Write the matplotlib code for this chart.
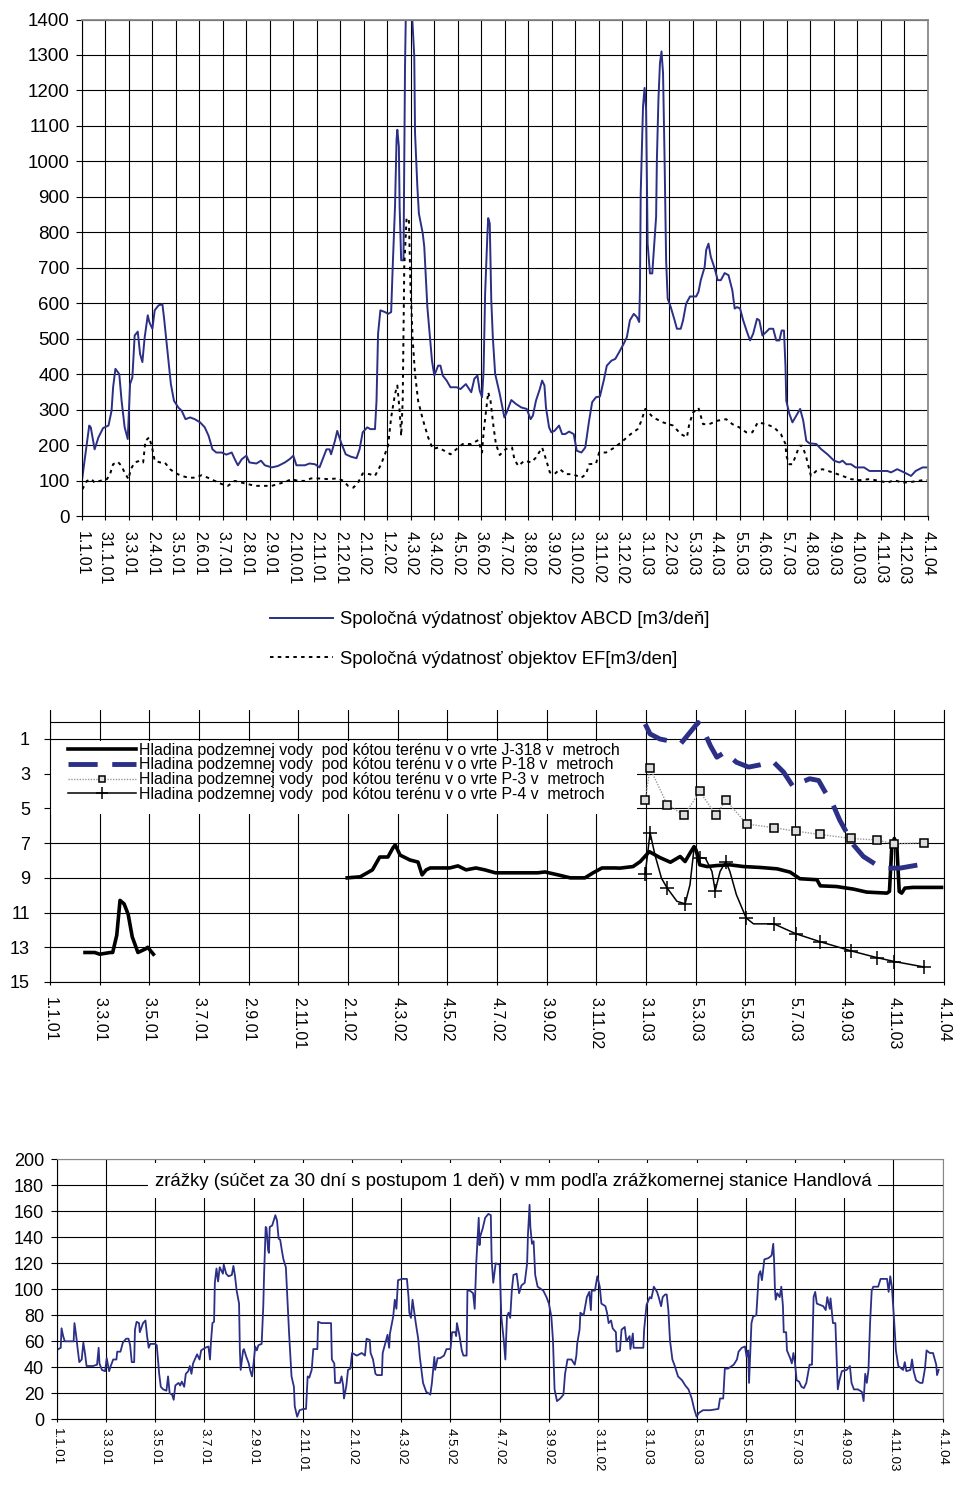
import numpy as np
import matplotlib
matplotlib.use('Agg')
import matplotlib.pyplot as plt
from matplotlib.patches import Rectangle

plt.rcParams['font.family'] = ['Liberation Sans', 'DejaVu Sans']

# tick labels (d.m.yy)
top_ticks = ['1.1.01', '31.1.01', '3.3.01', '2.4.01', '3.5.01', '2.6.01', '3.7.01', '2.8.01',
             '2.9.01', '2.10.01', '2.11.01', '2.12.01', '2.1.02', '1.2.02', '4.3.02', '3.4.02',
             '4.5.02', '3.6.02', '4.7.02', '3.8.02', '3.9.02', '3.10.02', '3.11.02', '3.12.02',
             '3.1.03', '2.2.03', '5.3.03', '4.4.03', '5.5.03', '4.6.03', '5.7.03', '4.8.03',
             '4.9.03', '4.10.03', '4.11.03', '4.12.03', '4.1.04']
mid_ticks = ['1.1.01', '3.3.01', '3.5.01', '3.7.01', '2.9.01', '2.11.01', '2.1.02', '4.3.02',
             '4.5.02', '4.7.02', '3.9.02', '3.11.02', '3.1.03', '5.3.03', '5.5.03', '5.7.03',
             '4.9.03', '4.11.03', '4.1.04']

# days counted from 1.1.2001
abcd_day = [0, 9, 11, 16, 21, 27, 34, 38, 40, 43, 48, 51, 55, 59, 62, 65, 68, 72, 75, 78, 81, 85, 87, 91,
            94, 99, 104, 106, 111, 115, 119, 125, 129, 134, 140, 146, 153, 159, 164, 169, 174, 181, 187,
            194, 198, 202, 207, 213, 217, 226, 232, 237, 246, 254, 263, 269, 274, 278, 289, 295, 302, 308,
            313, 317, 321, 323, 328, 331, 336, 342, 349, 356, 360, 364, 370, 374, 380, 382, 384, 387, 393,
            397, 401, 403, 406, 408, 409, 411, 412, 414, 417, 419, 421, 426, 428, 431, 432, 435, 437, 442,
            444, 448, 451, 454, 457, 462, 465, 468, 473, 478, 486, 491, 498, 505, 509, 513, 516, 519, 521,
            523, 526, 527, 529, 531, 533, 536, 542, 548, 551, 557, 563, 570, 577, 582, 585, 589, 594, 597,
            600, 602, 606, 609, 613, 619, 623, 627, 632, 638, 642, 648, 653, 658, 662, 667, 672, 677, 681,
            687, 692, 697, 703, 707, 711, 716, 720, 723, 724, 725, 728, 730, 732, 734, 737, 740, 743, 745,
            746, 748, 750, 752, 754, 756, 758, 760, 764, 769, 772, 777, 780, 784, 789, 797, 800, 803, 808,
            810, 813, 816, 821, 825, 829, 834, 839, 844, 847, 850, 854, 858, 863, 867, 871, 876, 879, 883,
            888, 892, 897, 901, 905, 908, 911, 913, 914, 918, 922, 927, 932, 936, 940, 944, 953, 959, 968,
            976, 983, 987, 992, 998, 1004, 1015, 1022, 1035, 1045, 1050, 1058, 1067, 1076, 1082, 1091, 1097]
abcd_val = [108, 255, 250, 188, 222, 248, 255, 297, 363, 415, 400, 325, 250, 217, 372, 391, 509, 520, 457,
            434, 504, 566, 547, 528, 580, 594, 597, 561, 457, 372, 325, 305, 297, 273, 278, 273, 264, 250,
            226, 188, 179, 179, 173, 179, 160, 143, 160, 170, 151, 148, 156, 143, 137, 141, 151, 160, 170,
            143, 143, 148, 146, 137, 165, 188, 188, 174, 212, 240, 207, 174, 167, 163, 188, 236, 250, 245,
            245, 325, 514, 580, 575, 570, 575, 702, 872, 1061, 1089, 1042, 872, 721, 721, 1268, 1550, 1550,
            1420, 1296, 1080, 929, 853, 797, 759, 589, 514, 438, 396, 424, 424, 396, 382, 363, 363, 358, 372,
            349, 387, 396, 353, 335, 410, 627, 797, 840, 825, 608, 504, 401, 344, 278, 292, 327, 316, 306,
            302, 273, 283, 325, 358, 382, 368, 306, 250, 236, 240, 255, 231, 231, 238, 231, 184, 179, 193,
            269, 321, 335, 337, 382, 424, 438, 443, 462, 486, 504, 552, 570, 561, 547, 636, 910, 1155, 1207,
            1145, 768, 684, 684, 778, 844, 1004, 1174, 1277, 1310, 1249, 1004, 721, 613, 589, 552, 528, 528,
            552, 599, 619, 619, 632, 665, 702, 750, 768, 731, 698, 665, 665, 685, 679, 636, 585, 589, 585,
            552, 519, 495, 514, 556, 552, 509, 519, 528, 528, 495, 495, 523, 523, 420, 325, 288, 264, 283,
            302, 269, 212, 205, 203, 189, 173, 156, 151, 156, 146, 146, 137, 137, 127, 127, 127, 123, 132,
            123, 113, 127, 137, 137]

ef_day = [0, 6, 12, 16, 23, 32, 36, 40, 46, 51, 55, 60, 63, 68, 75, 79, 82, 87, 91, 94, 101, 107, 114, 120,
          129, 138, 146, 155, 163, 172, 181, 189, 198, 207, 215, 224, 237, 246, 254, 263, 272, 280, 289,
          297, 306, 319, 332, 339, 345, 352, 358, 364, 373, 380, 388, 397, 401, 406, 409, 412, 414, 416,
          418, 421, 424, 426, 429, 432, 436, 442, 449, 455, 462, 470, 478, 486, 494, 505, 514, 519, 521,
          527, 530, 534, 537, 542, 550, 558, 561, 566, 574, 583, 589, 597, 602, 607, 613, 620, 628, 637,
          648, 654, 658, 667, 671, 680, 691, 702, 712, 721, 725, 731, 741, 754, 767, 777, 785, 788, 793,
          800, 806, 814, 825, 836, 844, 853, 862, 870, 877, 888, 898, 907, 913, 914, 918, 922, 927, 931,
          935, 940, 946, 953, 961, 974, 987, 998, 1009, 1022, 1035, 1045, 1054, 1065, 1076, 1091, 1097]
ef_val = [75, 99, 104, 94, 99, 104, 118, 146, 153, 141, 122, 104, 132, 151, 156, 151, 212, 222, 189, 156,
          151, 151, 132, 122, 113, 108, 108, 115, 108, 99, 90, 85, 99, 94, 90, 85, 85, 85, 90, 96, 104, 99,
          99, 106, 106, 104, 106, 99, 85, 80, 94, 120, 118, 113, 146, 198, 278, 344, 368, 297, 226, 325,
          702, 839, 839, 655, 495, 401, 325, 273, 222, 189, 193, 184, 174, 189, 203, 203, 214, 179, 236,
          349, 325, 250, 203, 172, 189, 193, 160, 141, 156, 151, 165, 193, 160, 123, 118, 132, 118, 118,
          108, 118, 146, 148, 179, 179, 193, 212, 231, 245, 264, 302, 278, 264, 255, 231, 222, 259, 292,
          305, 259, 259, 269, 273, 259, 250, 236, 236, 264, 259, 250, 231, 203, 170, 146, 146, 174, 198,
          198, 165, 113, 127, 132, 123, 113, 104, 101, 104, 99, 94, 101, 94, 96, 101, 101]

# groundwater level below terrain [m]
j318_day1 = [43, 55, 61, 74, 77, 82, 86, 91, 96, 101, 108, 117, 120, 127]
j318_val1 = [13.3, 13.3, 13.4, 13.3, 13.3, 12.3, 10.3, 10.5, 11.1, 12.4, 13.3, 13.1, 13.0, 13.4]
j318_day2 = [365, 381, 396, 405, 415, 421, 424, 430, 442, 452, 457, 462, 467, 477, 491, 501, 511, 523,
             534, 547, 565, 583, 599, 608, 624, 639, 657, 667, 678, 694, 700, 716, 725, 736, 749, 762,
             774, 780, 786, 791, 794, 798, 807, 819, 835, 852, 872, 893, 909, 921, 942, 946, 966, 987,
             1003, 1028, 1031, 1034, 1037, 1040, 1043, 1046, 1050, 1060, 1077, 1095]
j318_val2 = [9.0, 8.94, 8.54, 7.8, 7.8, 7.29, 7.1, 7.69, 7.97, 8.09, 8.83, 8.54, 8.43, 8.43, 8.43, 8.31,
             8.54, 8.43, 8.54, 8.71, 8.71, 8.71, 8.71, 8.66, 8.83, 9.0, 9.0, 8.71, 8.43, 8.43, 8.44, 8.35,
             8.06, 7.49, 7.83, 8.1, 7.77, 8.06, 7.58, 7.2, 7.49, 8.25, 8.35, 8.29, 8.25, 8.35, 8.4, 8.48,
             8.67, 9.05, 9.11, 9.46, 9.5, 9.65, 9.82, 9.88, 9.78, 7.11, 6.73, 7.11, 9.78, 9.88, 9.59, 9.55,
             9.55, 9.55]
p18_day = [731, 737, 749, 775, 786, 796, 802, 811, 819, 829, 843, 858, 872, 888, 901, 913, 921, 933, 944,
           952, 962, 970, 979, 987, 999, 1015, 1028, 1044, 1067]
p18_val = [0.14, 0.71, 1.0, 1.25, 0.62, 0.05, 0.43, 1.38, 2.05, 1.76, 2.34, 2.62, 2.49, 2.3, 2.91, 3.77,
           3.53, 3.29, 3.39, 4.05, 4.82, 5.68, 6.44, 7.11, 7.77, 8.25, 8.44, 8.44, 8.25]
p3_day = [731, 737, 758, 779, 798, 818, 830, 856, 889, 916, 946, 984, 1016, 1037, 1073]
p3_val = [4.53, 2.68, 4.78, 5.39, 4.02, 5.39, 4.53, 5.9, 6.11, 6.31, 6.5, 6.73, 6.82, 7.05, 6.97]
p4_day = [731, 737, 743, 751, 758, 770, 780, 786, 791, 793, 798, 805, 813, 817, 823, 830, 835, 843, 855,
          864, 889, 916, 946, 984, 1016, 1037, 1073]
p4_val = [8.79, 6.4, 7.68, 9.02, 9.59, 10.35, 10.5, 9.4, 7.3, 7.2, 7.83, 7.87, 8.63, 9.74, 8.63, 8.06,
          8.63, 9.97, 11.31, 11.65, 11.65, 12.22, 12.68, 13.21, 13.6, 13.82, 14.13]
p4_marks = [0, 1, 4, 6, 10, 13, 15, 18, 20, 21, 22, 23, 24, 25, 26]

# 30-day precipitation sum [mm]
rain_day = [0, 2, 5, 6, 8, 10, 21, 22, 24, 26, 28, 31, 33, 35, 37, 45, 50, 52, 53, 56, 60, 62, 65, 67, 70,
            74, 75, 79, 82, 86, 89, 91, 93, 96, 97, 99, 102, 103, 107, 110, 112, 114, 116, 122, 124, 127,
            129, 132, 136, 138, 140, 143, 145, 147, 151, 153, 155, 158, 160, 163, 165, 167, 169, 174, 177,
            179, 184, 188, 190, 191, 193, 195, 196, 198, 200, 202, 206, 207, 210, 213, 217, 219, 221, 223,
            226, 227, 228, 231, 232, 235, 238, 240, 242, 244, 246, 248, 250, 254, 256, 257, 259, 260, 262,
            263, 264, 267, 271, 273, 275, 277, 279, 281, 284, 286, 288, 291, 294, 295, 298, 301, 306, 309,
            311, 313, 316, 318, 323, 324, 328, 340, 341, 344, 345, 351, 353, 355, 356, 359, 361, 364, 366,
            372, 378, 382, 384, 388, 389, 392, 395, 397, 403, 404, 410, 412, 413, 417, 419, 421, 423, 428,
            434, 436, 437, 439, 441, 443, 445, 448, 450, 452, 454, 458, 461, 463, 465, 468, 469, 472, 475,
            480, 483, 488, 490, 494, 495, 496, 499, 502, 504, 508, 509, 512, 516, 518, 520, 523, 524, 525,
            528, 531, 535, 538, 539, 541, 544, 549, 551, 554, 556, 558, 560, 562, 564, 566, 570, 573, 576,
            580, 583, 584, 586, 587, 589, 591, 593, 596, 603, 607, 610, 613, 615, 617, 620, 624, 628, 630,
            633, 638, 642, 644, 645, 648, 649, 653, 657, 660, 662, 663, 667, 670, 673, 675, 680, 682, 684,
            687, 689, 693, 694, 698, 700, 704, 706, 710, 711, 714, 715, 727, 728, 731, 735, 737, 740, 744,
            746, 749, 751, 754, 756, 758, 760, 763, 766, 770, 775, 779, 783, 787, 790, 793, 796, 801, 810,
            820, 822, 826, 828, 832, 839, 843, 845, 849, 853, 855, 857, 858, 860, 861, 863, 867, 870, 872,
            874, 877, 882, 886, 888, 889, 890, 891, 893, 896, 898, 900, 901, 904, 905, 909, 911, 913, 915,
            917, 920, 923, 926, 929, 933, 936, 938, 940, 942, 946, 950, 953, 955, 958, 959, 962, 965, 967,
            968, 970, 973, 979, 983, 985, 988, 993, 998, 1000, 1002, 1004, 1006, 1008, 1010, 1012, 1018,
            1021, 1029, 1031, 1033, 1035, 1038, 1040, 1043, 1049, 1051, 1053, 1058, 1060, 1062, 1065, 1070,
            1073, 1076, 1078, 1082, 1086, 1090, 1091, 1093]
rain_val = [53, 54, 55, 70, 64, 60, 60, 74, 65, 54, 44, 46, 59, 51, 41, 41, 42, 55, 43, 38, 37, 47, 37, 41,
            46, 46, 52, 52, 59, 62, 62, 57, 44, 44, 69, 75, 74, 67, 74, 76, 64, 55, 58, 58, 57, 35, 25, 23,
            22, 33, 20, 19, 15, 26, 28, 26, 29, 25, 35, 37, 41, 35, 43, 50, 46, 53, 55, 56, 46, 58, 74, 75,
            105, 116, 106, 117, 112, 119, 112, 110, 111, 118, 110, 99, 89, 53, 38, 53, 54, 48, 43, 37, 33,
            43, 56, 53, 57, 58, 87, 111, 148, 147, 130, 128, 148, 149, 157, 153, 139, 138, 130, 123, 117,
            92, 66, 33, 25, 10, 2, 7, 8, 8, 33, 32, 38, 54, 54, 75, 74, 74, 46, 43, 28, 28, 33, 26, 16, 26,
            38, 39, 51, 49, 51, 49, 62, 61, 51, 46, 35, 34, 34, 51, 65, 55, 66, 79, 92, 85, 107, 108, 108,
            94, 82, 78, 92, 83, 74, 62, 48, 38, 28, 21, 20, 19, 28, 48, 38, 47, 47, 49, 54, 54, 67, 67, 64,
            74, 65, 53, 49, 49, 99, 99, 97, 85, 121, 155, 134, 141, 147, 155, 158, 157, 123, 105, 120, 119,
            79, 61, 46, 79, 82, 78, 99, 111, 112, 97, 103, 105, 120, 142, 165, 148, 135, 137, 111, 102, 99,
            94, 89, 79, 61, 23, 14, 16, 19, 35, 46, 46, 42, 49, 58, 69, 82, 80, 94, 98, 84, 99, 99, 110,
            102, 89, 87, 82, 74, 76, 70, 67, 52, 53, 69, 71, 60, 64, 54, 66, 55, 55, 69, 88, 94, 93, 102,
            98, 94, 87, 94, 96, 96, 84, 61, 46, 41, 33, 30, 26, 23, 16, 8, 2, 5, 7, 7, 8, 16, 16, 39, 39,
            42, 46, 52, 55, 56, 48, 53, 28, 58, 74, 79, 80, 111, 114, 107, 123, 124, 126, 135, 123, 102, 92,
            97, 94, 102, 87, 67, 67, 53, 47, 43, 51, 43, 30, 29, 25, 24, 28, 42, 42, 94, 98, 89, 88, 87, 84,
            94, 85, 93, 74, 74, 41, 23, 30, 37, 38, 41, 28, 23, 23, 21, 14, 35, 28, 38, 74, 99, 102, 102,
            108, 108, 98, 110, 102, 74, 53, 41, 38, 44, 37, 38, 46, 37, 30, 28, 28, 39, 53, 51, 51, 42, 34,
            38]

NAVY = '#2b2f86'
W, H = 956, 1486


def to_date(days):
    return np.datetime64('2001-01-01') + np.array(days, dtype='timedelta64[D]')


def tick_date(s):
    d, m, y = s.split('.')
    return np.datetime64('20%s-%02d-%02d' % (y, int(m), int(d)))


def fig_box(x0, y0, x1, y1):
    # pixel box -> figure fraction [left, bottom, width, height]
    return [x0 / W, 1 - y1 / H, (x1 - x0) / W, (y1 - y0) / H]


xmin, xmax = tick_date('1.1.01'), tick_date('4.1.04')

fig = plt.figure(figsize=(W / 100, H / 100), dpi=100)

# ---- top: discharge
ax1 = fig.add_axes(fig_box(82.3, 19.5, 928, 516))
l1, = ax1.plot(to_date(abcd_day), abcd_val, color=NAVY, lw=1.4)
l2, = ax1.plot(to_date(ef_day), ef_val, color='black', lw=1.4, ls=(0, (1.8, 2.2)))
ax1.set_ylim(0, 1400)
ax1.set_yticks(range(0, 1401, 100))
ax1.set_xlim(xmin, xmax)
ax1.set_xticks([tick_date(t) for t in top_ticks])
ax1.set_xticklabels(top_ticks, rotation=270, fontsize=11.5)
ax1.tick_params(axis='y', labelsize=13.5, length=4, pad=5)
ax1.tick_params(axis='x', length=3, pad=7.5)
ax1.set_axisbelow(True)
ax1.grid(color='black', lw=0.8)
for s in ['top', 'right']:
    ax1.spines[s].set_color('#888888')
    ax1.spines[s].set_linewidth(1.3)
fig.legend([l1, l2], ['Spoločná výdatnosť objektov ABCD [m3/deň]',
                      'Spoločná výdatnosť objektov EF[m3/den]'],
           loc='upper left', bbox_to_anchor=(270 / W, 1 - 611 / H), frameon=False,
           fontsize=13.3, handlelength=3.4, handletextpad=0.38, labelspacing=1.22,
           borderpad=0, borderaxespad=0)

# ---- middle: groundwater levels
ax2 = fig.add_axes(fig_box(50, 710, 944, 982))
ax2.plot(to_date(j318_day1), j318_val1, color='black', lw=2.6)
h1, = ax2.plot(to_date(j318_day2), j318_val2, color='black', lw=2.6)
h2, = ax2.plot(to_date(p18_day), p18_val, color=NAVY, lw=3.5, ls=(0, (6, 3)))
h3, = ax2.plot(to_date(p3_day), p3_val, color='#999999', lw=1.0, ls=(0, (1, 1)),
               marker='s', ms=6, mfc='#dddddd', mec='black', mew=1.1)
h4, = ax2.plot(to_date(p4_day), p4_val, color='black', lw=1.1, marker='+', ms=10, mew=1.1,
               markevery=p4_marks)
ax2.set_ylim(15, -0.67)
ax2.set_yticks(range(1, 16, 2))
ax2.set_xlim(xmin, xmax)
ax2.set_xticks([tick_date(t) for t in mid_ticks])
ax2.set_xticklabels(mid_ticks, rotation=270, fontsize=11.5)
ax2.tick_params(axis='y', labelsize=13, length=4.5, pad=10)
ax2.tick_params(axis='x', length=2, pad=9)
ax2.set_axisbelow(True)
ax2.grid(color='black', lw=0.8)
ax2.axhline(0, color='black', lw=0.8, zorder=0.6)
ax2.spines['top'].set_visible(False)
ax2.add_patch(Rectangle((0, 0.619), 0.6566, 0.268, transform=ax2.transAxes,
                        facecolor='white', edgecolor='none', zorder=1))
ax2.legend([h1, h2, h3, h4],
           ['Hladina podzemnej vody  pod kótou terénu v o vrte J-318 v  metroch',
            'Hladina podzemnej vody  pod kótou terénu v o vrte P-18 v  metroch',
            'Hladina podzemnej vody  pod kótou terénu v o vrte P-3 v  metroch',
            'Hladina podzemnej vody  pod kótou terénu v o vrte P-4 v  metroch'],
           loc='upper left', bbox_to_anchor=(68 / W, 1 - 742.5 / H), bbox_transform=fig.transFigure,
           frameon=False, fontsize=11.4, handlelength=4.3, handletextpad=0.2,
           labelspacing=-0.01, borderpad=0, borderaxespad=0, markerscale=0.8)

# ---- bottom: precipitation
ax3 = fig.add_axes(fig_box(56.7, 1159.3, 942.7, 1419.3))
ax3.plot(to_date(rain_day), rain_val, color=NAVY, lw=1.3)
ax3.set_ylim(0, 200)
ax3.set_yticks(range(0, 201, 20))
ax3.set_xlim(xmin, xmax)
ax3.set_xticks([tick_date(t) for t in mid_ticks])
ax3.set_xticklabels(mid_ticks, rotation=270, fontsize=9.5)
ax3.tick_params(axis='y', labelsize=13, length=4, pad=5)
ax3.tick_params(axis='x', length=2, pad=4)
ax3.set_axisbelow(True)
ax3.grid(color='black', lw=0.8)
for s in ['top', 'right']:
    ax3.spines[s].set_color('#888888')
ax3.add_patch(Rectangle((0.103, 0.851), 0.824, 0.134, transform=ax3.transAxes,
                        facecolor='white', edgecolor='none', zorder=1))
ax3.text(0.515, 0.9165, 'zrážky (súčet za 30 dní s postupom 1 deň) v mm podľa zrážkomernej stanice Handlová',
         transform=ax3.transAxes, ha='center', va='center', fontsize=13.4, zorder=3)

fig.savefig('out.png', dpi=100)
